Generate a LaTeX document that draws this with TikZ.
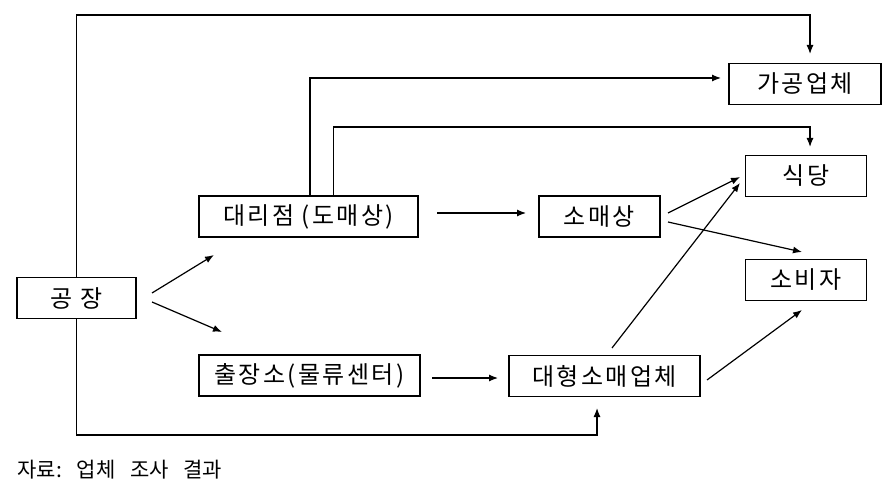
\documentclass[tikz,border=0pt]{standalone}
\usepackage{fontspec}
\setmainfont{Noto Sans CJK KR}
\newfontfamily\boxfont{Noto Sans CJK KR}[LetterSpace=10]
\usetikzlibrary{arrows.meta}
\begin{document}
\begin{tikzpicture}[x=1pt,y=-1pt]
	\tikzstyle{box} = [rectangle,line width=1.1pt,minimum height =41pt,inner sep=2pt,
	text centered, draw = black, font=\boxfont\fontsize{24}{27}\selectfont]
	\tikzstyle{arr} = [line width=1.2pt,-{Latex[length=9pt,width=7pt]}]
	\useasboundingbox (0,0) rectangle (894,497);
	\node (node1) [box, minimum width=119pt] at (76.5,298) {공\hspace{0.3em}장};
	\node (node2) [box, minimum width=219pt] at (308.5,216.5) {대리점 (도매상)};
	\node (node3) [box, minimum width=221pt] at (309.5,375.5) {출장소(물류센터)};
	\node (node4) [box, minimum width=121pt] at (599.5,216.5) {소매상};
	\node (node5) [box, minimum width=191pt] at (604.5,376) {대형소매업체};
	\node (node6) [box, minimum width=152pt] at (805,84) {가공업체};
	\node (node7) [box, minimum width=121pt] at (806,176) {식당};
	\node (node8) [box, minimum width=121pt] at (806,280) {소비자};
	\node (note) [anchor=west, font=\fontsize{21}{23}\selectfont] at (14,470)
	  {자료:\hspace{0.7em}업체\hspace{0.7em}조사\hspace{0.7em}결과};
	% free ends of the arrows
	\coordinate (c1) at (810,54);
	\coordinate (c2) at (721,78);
	\coordinate (c3) at (810,147);
	\coordinate (c4) at (597,408);
	\draw[arr] (node1.north) |- (810,15) -- (c1);
	\draw[arr] ([xshift=1.5pt]node2.north) |- (c2);
	\draw[arr] ([xshift=25pt]node2.north) |- (810,127) -- (c3);
	\draw[arr] (node1.south) |- (597,435) -- (c4);
	\draw[arr] (152,293) -- (214,255);
	\draw[arr] (152,302) -- (222,332);
	\draw[arr] (437,213) -- (526,213);
	\draw[arr] (432,378) -- (498,378);
	\draw[arr] (668,213) -- (740,177);
	\draw[arr] (668,222) -- (802,252);
	\draw[arr] (612,348) -- (740,183);
	\draw[arr] (707,380) -- (802,310);
\end{tikzpicture}
\end{document}
